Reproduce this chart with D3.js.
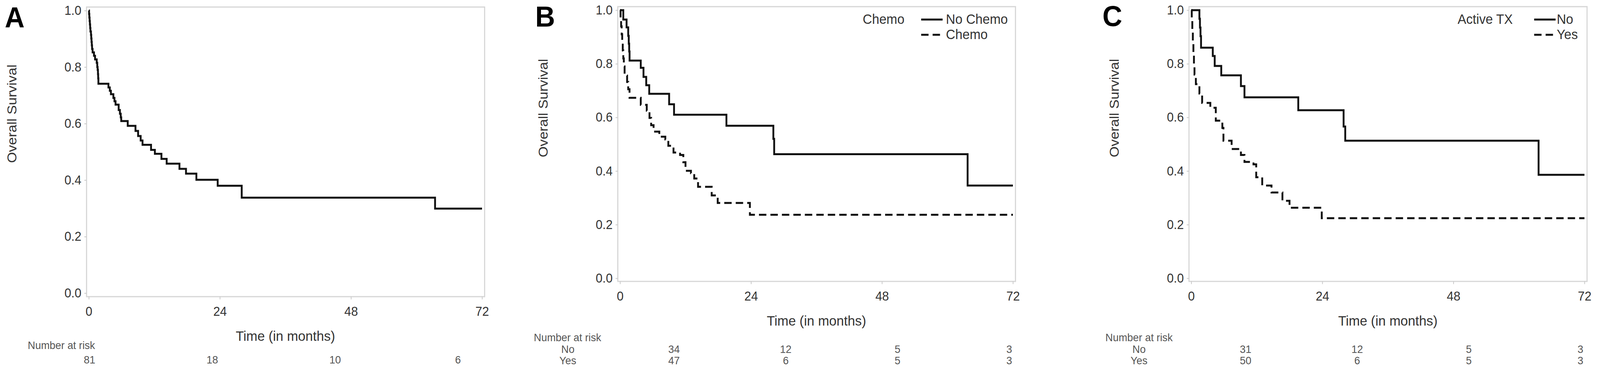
<!DOCTYPE html>
<html><head><meta charset="utf-8">
<script src="https://cdn.jsdelivr.net/npm/d3@7"></script>
<style>
html,body{margin:0;padding:0;background:#fff;overflow:hidden;width:100vw;height:100vh}
svg{display:block;width:100vw;height:100vh}
text{font-family:"Liberation Sans",Arial,Helvetica,sans-serif}
</style>
</head><body>
<svg id="chart" viewBox="0 0 4325 939" preserveAspectRatio="none"></svg>
<script>
// ---------- data ----------
const timeTicks = [0, 24, 48, 72];
const survTicks = [0, 0.2, 0.4, 0.6, 0.8, 1.0];
const panelLetters = ["A", "B", "C"];
const yTitle = "Overall Survival";
const xTitle = "Time (in months)";
const riskTitle = "Number at risk";

// Panel A: all patients (event time in months, survival after the event)
const allTimes = [0.05,0.1,0.15,0.2,0.25,0.3,0.4,0.45,0.5,0.55,0.6,0.7,0.95,1.15,1.45,1.55,1.62,1.68,1.72,1.76,3.6,3.85,4.05,4.5,4.7,4.9,5.47,5.7,5.85,5.94,7.13,8.55,9.03,9.5,9.84,11.4,12.1,13.3,14.26,16.6,17.8,19.7,23.6,28.0,63.4];
const allSurv  = [0.988,0.975,0.963,0.951,0.938,0.926,0.914,0.901,0.889,0.877,0.864,0.852,0.84,0.827,0.815,0.80,0.79,0.775,0.76,0.741,0.728,0.716,0.704,0.691,0.679,0.667,0.648,0.635,0.622,0.609,0.592,0.574,0.556,0.54,0.525,0.507,0.493,0.475,0.458,0.44,0.423,0.401,0.38,0.338,0.299];
const allAtRisk = [81, 18, 10, 6];

// Panel B: chemotherapy
const chemoLegendTitle = "Chemo";
const chemoGroups = ["No Chemo", "Chemo"];
const chemoRowLabels = ["No", "Yes"];
const noChemoTimes = [0.6,1.2,1.5,1.6,1.68,1.75,3.8,4.3,4.8,5.35,9.0,9.9,19.5,28.1,28.25,63.7];
const noChemoSurv  = [0.965,0.936,0.904,0.875,0.846,0.812,0.785,0.751,0.72,0.688,0.649,0.61,0.569,0.52,0.463,0.346];
const chemoTimes = [0.1,0.2,0.3,0.4,0.5,0.6,0.7,0.84,1.3,1.5,1.74,3.8,4.9,5.4,5.7,6.15,7.2,8.3,8.85,9.8,11.0,11.6,12.0,13.0,13.6,14.3,16.8,17.9,23.8];
const chemoSurv  = [0.97,0.94,0.91,0.88,0.85,0.82,0.79,0.756,0.732,0.705,0.673,0.647,0.625,0.598,0.571,0.547,0.528,0.518,0.494,0.469,0.46,0.433,0.401,0.392,0.372,0.341,0.309,0.281,0.237];
const noChemoAtRisk = [34, 12, 5, 3];
const chemoAtRisk = [47, 6, 5, 3];

// Panel C: active treatment
const txLegendTitle = "Active TX";
const txGroups = ["No", "Yes"];
const txRowLabels = ["No", "Yes"];
const noTxTimes = [1.5,1.6,1.7,1.8,3.95,4.3,5.5,9.1,9.75,19.6,27.9,28.2,63.6];
const noTxSurv  = [0.968,0.935,0.903,0.86,0.829,0.792,0.757,0.717,0.675,0.627,0.566,0.513,0.386];
const txTimes = [0.1,0.2,0.3,0.4,0.5,0.6,0.85,1.5,2.0,3.5,4.5,5.7,5.9,7.4,9.1,9.75,11.4,11.9,13.0,14.7,16.7,18.0,23.9];
const txSurv  = [0.96,0.92,0.88,0.84,0.80,0.76,0.724,0.689,0.654,0.636,0.588,0.561,0.513,0.482,0.46,0.434,0.425,0.377,0.346,0.32,0.289,0.263,0.224];
const noTxAtRisk = [31, 12, 5, 3];
const txAtRisk = [50, 6, 5, 3];

// ---------- layout ----------
const svg = d3.select("#chart");
const FONT_TICK = 33, FONT_TITLE = 36, FONT_LEG = 35, FONT_RISK = 28;
const CURVE_W = 5, DASH = "20,11";

const panels = [
  { letter: panelLetters[0], letterX: 13, letterY: 70,
    x0: 240, x1: 1303, yBot: 750, yTop: 27, fL: 234, fR: 1310, fT: 18, fB: 759,
    series: [{t: allTimes, s: allSurv, dash: null}],
    legend: null,
    riskX0: 242, riskX1: 1238, nar: {x: 75, y: 893}, rowLabelX: null,
    riskRows: [{label: null, values: allAtRisk, y: 930}] },
  { letter: panelLetters[1], letterX: 1447, letterY: 68,
    x0: 1676, x1: 2738, yBot: 712, yTop: 26, fL: 1670, fR: 2745, fT: 17, fB: 720,
    series: [{t: noChemoTimes, s: noChemoSurv, dash: null}, {t: chemoTimes, s: chemoSurv, dash: DASH}],
    legend: {title: chemoLegendTitle, titleX: 2332, lineX: 2490, textX: 2557, labels: chemoGroups},
    riskX0: 1822, riskX1: 2728, nar: {x: 1443, y: 873}, rowLabelX: 1535,
    riskRows: [{label: chemoRowLabels[0], values: noChemoAtRisk, y: 903}, {label: chemoRowLabels[1], values: chemoAtRisk, y: 932}] },
  { letter: panelLetters[2], letterX: 2980, letterY: 67,
    x0: 3220, x1: 4283, yBot: 712, yTop: 26, fL: 3214, fR: 4290, fT: 17, fB: 720,
    series: [{t: noTxTimes, s: noTxSurv, dash: null}, {t: txTimes, s: txSurv, dash: DASH}],
    legend: {title: txLegendTitle, titleX: 3940, lineX: 4147, textX: 4208, labels: txGroups},
    riskX0: 3367, riskX1: 4272, nar: {x: 2988, y: 873}, rowLabelX: 3079,
    riskRows: [{label: txRowLabels[0], values: noTxAtRisk, y: 903}, {label: txRowLabels[1], values: txAtRisk, y: 932}] }
];

panels.forEach(p => {
  const g = svg.append("g");
  const x = d3.scaleLinear().domain([0, 72]).range([p.x0, p.x1]);
  const y = d3.scaleLinear().domain([0, 1]).range([p.yBot, p.yTop]);

  g.append("rect").attr("x", p.fL).attr("y", p.fT)
    .attr("width", p.fR - p.fL).attr("height", p.fB - p.fT)
    .attr("fill", "none").attr("stroke", "#d6d6d6").attr("stroke-width", 3);

  const ya = g.append("g").attr("transform", `translate(${p.fL},0)`)
    .call(d3.axisLeft(y).tickValues(survTicks).tickFormat(d3.format(".1f")).tickSize(6).tickPadding(8));
  ya.select(".domain").remove();
  ya.selectAll(".tick line").attr("stroke", "#c8c8c8").attr("stroke-width", 2);
  ya.selectAll(".tick text").attr("font-size", FONT_TICK).attr("fill", "#333")
    .attr("font-family", "Liberation Sans, Arial, sans-serif");

  const xa = g.append("g").attr("transform", `translate(0,${p.fB})`)
    .call(d3.axisBottom(x).tickValues(timeTicks).tickFormat(d3.format("d")).tickSize(7).tickPadding(19));
  xa.select(".domain").remove();
  xa.selectAll(".tick line").attr("stroke", "#c8c8c8").attr("stroke-width", 2);
  xa.selectAll(".tick text").attr("font-size", FONT_TICK).attr("fill", "#333")
    .attr("font-family", "Liberation Sans, Arial, sans-serif");

  g.append("text").attr("x", (p.x0 + p.x1) / 2).attr("y", p.fB + 100).attr("dy", "0.35em")
    .attr("text-anchor", "middle").attr("font-size", FONT_TITLE).attr("fill", "#333").text(xTitle);
  const ty = y(0.635);
  g.append("text").attr("transform", `translate(${p.fL - 202},${ty}) rotate(-90)`).attr("dy", "0.35em")
    .attr("text-anchor", "middle").attr("font-size", FONT_TITLE).attr("fill", "#333").text(yTitle);

  g.append("text").attr("x", p.letterX).attr("y", p.letterY).attr("font-size", 74)
    .attr("font-weight", "bold").attr("fill", "#000").text(p.letter);

  const line = d3.line().x(d => x(d[0])).y(d => y(d[1])).curve(d3.curveStepAfter);
  p.series.forEach(sr => {
    const pts = [[0, 1]];
    sr.t.forEach((t, i) => pts.push([t, sr.s[i]]));
    pts.push([72, sr.s[sr.s.length - 1]]);
    g.append("path").attr("d", line(pts)).attr("fill", "none").attr("stroke", "#111")
      .attr("stroke-width", CURVE_W).attr("stroke-dasharray", sr.dash);
  });

  if (p.legend) {
    const L = p.legend;
    const rowY = [61, 100];
    g.append("text").attr("x", L.titleX).attr("y", rowY[0]).attr("font-size", FONT_LEG)
      .attr("fill", "#333").text(L.title);
    L.labels.forEach((lab, i) => {
      g.append("line").attr("x1", L.lineX).attr("x2", L.lineX + 58)
        .attr("y1", rowY[i] - 11).attr("y2", rowY[i] - 11)
        .attr("stroke", "#111").attr("stroke-width", CURVE_W)
        .attr("stroke-dasharray", p.series[i].dash);
      g.append("text").attr("x", L.textX).attr("y", rowY[i]).attr("font-size", FONT_LEG)
        .attr("fill", "#333").text(lab);
    });
  }

  const rx = d3.scaleLinear().domain([0, 72]).range([p.riskX0, p.riskX1]);
  g.append("text").attr("x", p.nar.x).attr("y", p.nar.y).attr("font-size", FONT_RISK)
    .attr("fill", "#555").text(riskTitle);
  p.riskRows.forEach(row => {
    if (row.label) {
      g.append("text").attr("x", p.rowLabelX).attr("y", row.y).attr("text-anchor", "middle")
        .attr("font-size", FONT_RISK).attr("fill", "#555").text(row.label);
    }
    g.selectAll(null).data(timeTicks).enter().append("text")
      .attr("x", d => rx(d)).attr("y", row.y).attr("text-anchor", "middle")
      .attr("font-size", FONT_RISK).attr("fill", "#555")
      .text((d, i) => row.values[i]);
  });
});
</script>
</body></html>
